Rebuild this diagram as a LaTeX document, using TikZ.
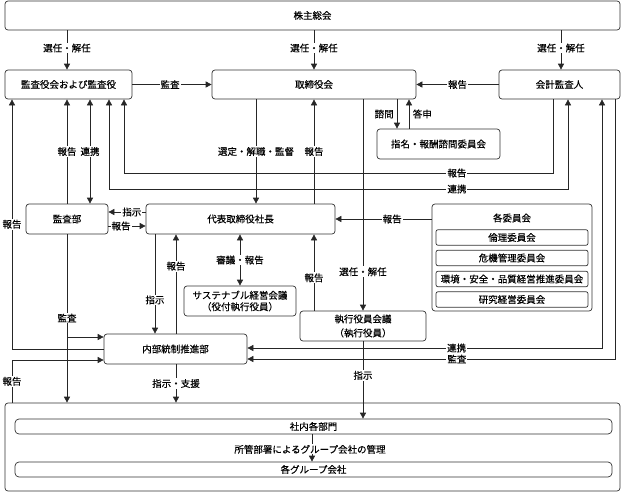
\documentclass[tikz,border=0pt]{standalone}
\usepackage{fontspec}
\setmainfont{Noto Sans CJK JP}[FakeBold=0.35]
\usetikzlibrary{arrows.meta}
\newcommand\jpf{\fontsize{9.5}{11}\selectfont}
\begin{document}
\begin{tikzpicture}[x=1pt,y=-1pt,
  line width=0.7pt,
  ln/.style={draw=black!85},
  arr/.style={ln,-{Triangle[length=6pt,width=6pt]}},
  arrb/.style={ln,{Triangle[length=6pt,width=6pt]}-{Triangle[length=6pt,width=6pt]}},
  box/.style={draw=black!80, rounded corners=3pt, inner sep=0pt, fill=white, font=\jpf},
  sbox/.style={box, rounded corners=2pt},
  lbl/.style={fill=white, inner sep=1pt, font=\jpf},
  txt/.style={inner sep=0pt, font=\jpf}]
\useasboundingbox (0,0) rectangle (624,493);

% rails
\foreach \x in {12,67,90,109,124,155,176,240,256,312,314,363,397,409,553,561,568,602,615}
  {\coordinate (c\x) at (\x,0);}
\foreach \y in {173,189,212,226,337,349,360,348,359}
  {\coordinate (r\y) at (0,\y);}

% boxes
\node[box, minimum width=615pt, minimum height=29pt] (sh) at (312.5,15.5) {株主総会};
\node[box, minimum width=127pt, minimum height=29pt] (kansa) at (68.5,84.5) {監査役会および監査役};
\node[box, minimum width=204pt, minimum height=29pt] (tori) at (314,84.5) {取締役会};
\node[box, minimum width=121pt, minimum height=29pt] (kaikei) at (559.5,84.5) {会計監査人};
\node[box, minimum width=123pt, minimum height=30pt] (shimei) at (438.5,144) {指名・報酬諮問委員会};
\node[box, minimum width=82pt, minimum height=30pt] (kansabu) at (67,219) {監査部};
\node[box, minimum width=189pt, minimum height=30pt] (daihyo) at (240.5,219) {代表取締役社長};
\node[box, minimum width=160pt, minimum height=107pt] (iinkai) at (512,257.5) {};
\node[txt] (iinkaiT) at (512,218) {各委員会};
\node[sbox, minimum width=152pt, minimum height=15.5pt] (rinri) at (512,237.5) {倫理委員会};
\node[sbox, minimum width=152pt, minimum height=15.5pt] (kiki) at (512,258) {危機管理委員会};
\node[sbox, minimum width=152pt, minimum height=15.5pt] (kankyo) at (512,279) {環境・安全・品質経営推進委員会};
\node[sbox, minimum width=152pt, minimum height=15.5pt] (kenkyu) at (512,299.5) {研究経営委員会};
\node[box, minimum width=112pt, minimum height=30pt, align=center, font=\fontsize{9.5}{11.5}\selectfont] (sus) at (240,301) {サステナブル経営会議\\（役付執行役員）};
\node[box, minimum width=126pt, minimum height=30pt, align=center, font=\fontsize{9.5}{14}\selectfont] (shikko) at (363,326) {執行役員会議\\（執行役員）};
\node[box, minimum width=143pt, minimum height=30pt] (naibu) at (175.5,349) {内部統制推進部};
\node[box, minimum width=615pt, minimum height=88pt] (big) at (312.5,447) {};
\node[box, rounded corners=4pt, minimum width=597pt, minimum height=15pt] (shanai) at (313.5,426.5) {社内各部門};
\node[box, rounded corners=4pt, minimum width=597pt, minimum height=15pt] (group) at (313.5,469.5) {各グループ会社};

% shareholders
\draw[arr] (sh.south -| c67) -- node[lbl, pos=0.45]{選任・解任} (kansa.north -| c67);
\draw[arr] (sh.south -| c314) -- node[lbl, pos=0.45]{選任・解任} (tori.north -| c314);
\draw[arr] (sh.south -| c561) -- node[lbl, pos=0.45]{選任・解任} (kaikei.north -| c561);

% top row
\draw[arr] (kansa.east) -- node[lbl, pos=0.475]{監査} (tori.west);
\draw[arr] (kaikei.west) -- node[lbl]{報告} (tori.east);

% nomination committee
\draw[arr] (tori.south -| c397) -- node[txt, anchor=east, xshift=-3pt]{諮問} (shimei.north -| c397);
\draw[arr] (shimei.north -| c409) -- node[txt, anchor=west, xshift=3.5pt]{答申} (tori.south -| c409);

% board <-> president
\draw[arr] (tori.south -| c256) -- node[lbl]{選定・解職・監督} (daihyo.north -| c256);
\draw[arr] (daihyo.north -| c314) -- node[lbl]{報告} (tori.south -| c314);
\draw[arr] (tori.south -| c363) -- node[lbl, pos=0.816]{選任・解任} (shikko.north);

% auditor <-> audit board
\draw[arr] (kaikei.south -| c553) -- (c553 |- r173) -- node[lbl, pos=0.224]{報告} (c124 |- r173) -- (kansa.south -| c124);
\draw[arrb] (kansa.south -| c109) -- (c109 |- r189) -- node[lbl, pos=0.758]{連携} (c568 |- r189) -- (kaikei.south -| c568);

% audit dept
\draw[arr] (kansabu.north) -- node[lbl]{報告} (kansa.south -| c67);
\draw[arrb] (kansa.south -| c90) -- node[lbl]{連携} (kansabu.north -| c90);
\draw[arr] (daihyo.west |- r212) -- node[lbl, pos=0.37]{指示} (kansabu.east |- r212);
\draw[arr] (kansabu.east |- r226) -- node[lbl, pos=0.34]{報告} (daihyo.west |- r226);

% internal control
\draw[arr] (naibu.west |- r349) -- (c12 |- r349) -- node[lbl, pos=0.5]{報告} (kansa.south -| c12);
\draw[arr] (kansabu.south) -- node[lbl, pos=0.497]{監査} (big.north -| c67);
\draw[arr] (c67 |- r337) -- (naibu.west |- r337);
\draw[arr] (big.north -| c12) -- node[lbl]{報告} (c12 |- r360) -- (naibu.west |- r360);
\draw[arr] (daihyo.south -| c155) -- node[lbl, pos=0.66]{指示} (naibu.north -| c155);
\draw[arr] (naibu.north -| c176) -- node[lbl, pos=0.68]{報告} (daihyo.south -| c176);
\draw[arrb] (daihyo.south -| c240) -- node[lbl]{審議・報告} (sus.north -| c240);
\draw[arr] (shikko.north -| c314) -- node[lbl, pos=0.43]{報告} (daihyo.south -| c314);
\draw[arr] (daihyo.east -| iinkai.west) -- node[lbl, pos=0.41]{報告} (daihyo.east);
\draw[arrb] (kaikei.south -| c602) -- (c602 |- r348) -- node[lbl, pos=0.41]{連携} (naibu.east |- r348);
\draw[arr] (kaikei.south -| c615) -- (c615 |- r359) -- node[lbl, pos=0.43]{監査} (naibu.east |- r359);
\draw[arr] (naibu.south -| c176) -- node[lbl]{指示・支援} (big.north -| c176);
\draw[arr] (shikko.south) -- node[lbl, pos=0.44]{指示} (shanai.north -| c363);
\draw[arr] (shanai.south -| c312) -- node[lbl, inner sep=0.5pt, pos=0.55, xshift=-2pt]{所管部署によるグループ会社の管理} (group.north -| c312);
\end{tikzpicture}
\end{document}
